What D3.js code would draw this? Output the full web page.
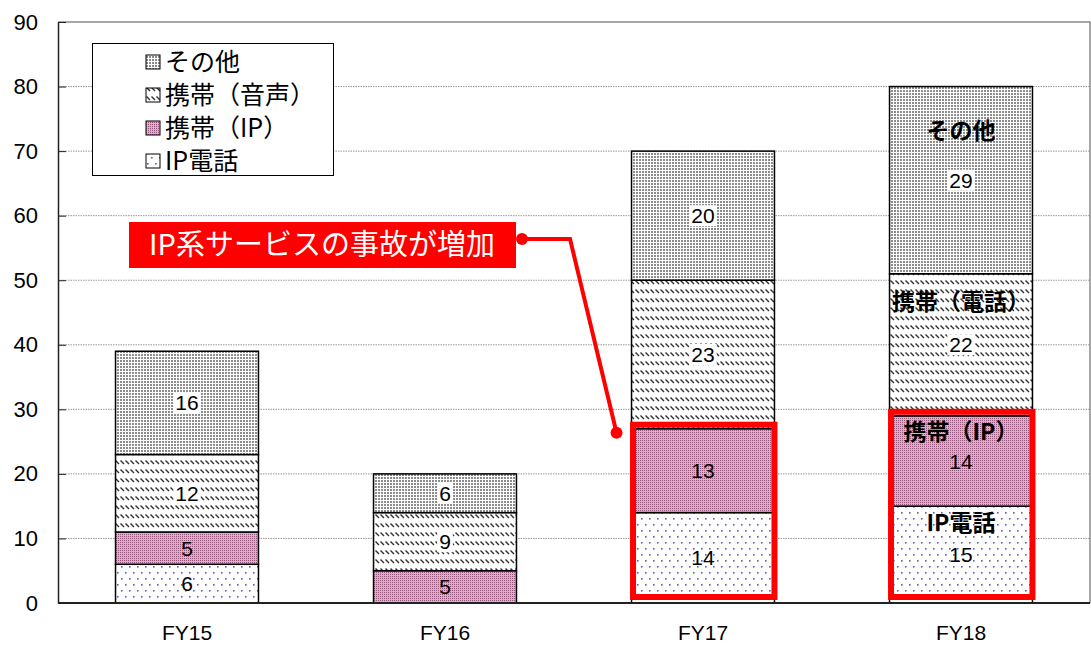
<!DOCTYPE html>
<html>
<head>
<meta charset="utf-8">
<script src="https://cdn.jsdelivr.net/npm/d3@7"></script>
<style>
  body { margin: 0; background: #fff; }
  svg { display: block; font-family: "Liberation Sans", "Noto Sans CJK JP", sans-serif; }
  .jp { font-family: "Noto Sans CJK JP", sans-serif; }
</style>
</head>
<body>
<script>
// データ
var categories = ["FY15", "FY16", "FY17", "FY18"];
var ipPhone     = [6, 0, 14, 15];   // IP電話
var mobileIp    = [5, 5, 13, 14];   // 携帯(IP)
var mobileVoice = [12, 9, 23, 22];  // 携帯(音声)
var others      = [16, 6, 20, 29];  // その他
var yTicks = [0, 10, 20, 30, 40, 50, 60, 70, 80, 90];

var keys = ["ipPhone", "mobileIp", "mobileVoice", "others"];
var legendNames = {others: "その他", mobileVoice: "携帯（音声）", mobileIp: "携帯（IP）", ipPhone: "IP電話"};
var legendOrder = ["others", "mobileVoice", "mobileIp", "ipPhone"];

// FY18 の中の太字ラベル(値の単位で位置)
var fy18Notes = [
  {text: "その他", value: 73.2},
  {text: "携帯（電話）", value: 46.6},
  {text: "携帯（IP）", value: 26.6},
  {text: "IP電話", value: 12.4}
];
var highlighted = ["FY17", "FY18"];

var dataset = categories.map(function(c, i) {
  return {cat: c, ipPhone: ipPhone[i], mobileIp: mobileIp[i], mobileVoice: mobileVoice[i], others: others[i]};
});

var W = 1091, H = 650;
var plotLeft = 58, plotRight = 1090, plotTop = 22, plotBottom = 603;

var svg = d3.select("body").append("svg")
    .attr("width", W)
    .attr("height", H);

// patronen
var defs = svg.append("defs");

var pGrey = defs.append("pattern").attr("id", "p-others")
    .attr("patternUnits", "userSpaceOnUse").attr("width", 3).attr("height", 3);
pGrey.append("rect").attr("width", 3).attr("height", 3).attr("fill", "#fff");
pGrey.append("rect").attr("width", 2).attr("height", 2).attr("fill", "#8c8c8c");

var pHatch = defs.append("pattern").attr("id", "p-mobileVoice")
    .attr("patternUnits", "userSpaceOnUse").attr("width", 5).attr("height", 9);
pHatch.append("rect").attr("width", 5).attr("height", 9).attr("fill", "#fff");
pHatch.append("path").attr("d", "M0.5,1.5 L4,5").attr("stroke", "#333").attr("stroke-width", 1.4);

var pPink = defs.append("pattern").attr("id", "p-mobileIp")
    .attr("patternUnits", "userSpaceOnUse").attr("width", 2).attr("height", 2);
pPink.append("rect").attr("width", 2).attr("height", 2).attr("fill", "#dcaecb");
pPink.append("rect").attr("width", 1).attr("height", 1).attr("fill", "#93567a");

var pDots = defs.append("pattern").attr("id", "p-ipPhone")
    .attr("patternUnits", "userSpaceOnUse").attr("width", 8).attr("height", 12);
pDots.append("rect").attr("width", 8).attr("height", 12).attr("fill", "#fff");
pDots.append("rect").attr("x", 1).attr("y", 2).attr("width", 1.6).attr("height", 1.6).attr("fill", "#5c5cc8");
pDots.append("rect").attr("x", 5).attr("y", 8).attr("width", 1.6).attr("height", 1.6).attr("fill", "#5c5cc8");

// schalen
var x = d3.scaleBand()
    .domain(categories)
    .range([plotLeft, plotRight])
    .paddingInner(0.446)
    .paddingOuter(0.223);

var y = d3.scaleLinear()
    .domain([0, 90])
    .range([plotBottom, plotTop]);

// rand en gridlijnen
svg.append("path")
    .attr("d", "M" + plotLeft + "," + plotTop + "H" + plotRight + "V" + plotBottom)
    .attr("fill", "none").attr("stroke", "#8a8a8a").attr("stroke-width", 1.5);

svg.append("g").selectAll("line")
    .data(yTicks.filter(function(d) { return d > 0 && d < 90; }))
    .enter().append("line")
      .attr("x1", plotLeft).attr("x2", plotRight)
      .attr("y1", function(d) { return y(d); })
      .attr("y2", function(d) { return y(d); })
      .attr("stroke", "#999")
      .attr("stroke-dasharray", "1.5,1")
      .attr("stroke-width", 1);

// y-as
var yAxis = svg.append("g")
    .attr("transform", "translate(" + plotLeft + ",0)")
    .call(d3.axisLeft(y).tickValues(yTicks).tickSizeInner(-8).tickSizeOuter(0).tickPadding(20));
yAxis.select(".domain").attr("stroke", "#222").attr("stroke-width", 1.5);
yAxis.selectAll(".tick line").attr("stroke", "#222");
yAxis.selectAll(".tick text")
    .attr("font-size", 22)
    .attr("font-family", "Liberation Sans, Arial, sans-serif")
    .attr("fill", "#000");

// legenda links boven
var legend = svg.append("g");
legend.append("rect")
    .attr("x", 92.5).attr("y", 43.5)
    .attr("width", 241).attr("height", 132)
    .attr("fill", "#fff").attr("stroke", "#000").attr("stroke-width", 1);

var legendRow = legend.selectAll("g.row")
    .data(legendOrder)
    .enter().append("g")
      .attr("class", "row")
      .attr("transform", function(d, i) { return "translate(146," + (62 + i * 33) + ")"; });

legendRow.append("rect")
    .attr("x", 0).attr("y", -7)
    .attr("width", 14).attr("height", 14)
    .attr("fill", function(d) { return "url(#p-" + d + ")"; })
    .attr("stroke", "#000").attr("stroke-width", 1);

legendRow.append("text")
    .attr("class", "jp")
    .attr("x", 19)
    .attr("dy", "0.36em")
    .attr("font-size", 25)
    .text(function(d) { return legendNames[d]; });

// gestapelde balken
var series = d3.stack().keys(keys)(dataset);

var layer = svg.append("g").selectAll("g")
    .data(series)
    .enter().append("g")
      .attr("fill", function(d) { return "url(#p-" + d.key + ")"; });

layer.selectAll("rect")
    .data(function(d) { return d.filter(function(s) { return s[1] - s[0] > 0; }); })
    .enter().append("rect")
      .attr("x", function(d) { return x(d.data.cat); })
      .attr("y", function(d) { return y(d[1]); })
      .attr("width", x.bandwidth())
      .attr("height", function(d) { return y(d[0]) - y(d[1]); })
      .attr("stroke", "#000")
      .attr("stroke-width", 1.5);

// x-as
svg.append("line")
    .attr("x1", plotLeft).attr("x2", plotRight)
    .attr("y1", plotBottom).attr("y2", plotBottom)
    .attr("stroke", "#222").attr("stroke-width", 2);

svg.append("g")
    .attr("transform", "translate(0," + plotBottom + ")")
    .call(d3.axisBottom(x).tickSize(0).tickPadding(22))
    .call(function(g) { g.select(".domain").remove(); })
    .selectAll("text")
      .attr("font-size", 21)
      .attr("font-family", "Liberation Sans, Arial, sans-serif")
      .attr("fill", "#000");

// waardelabels
var labelG = svg.append("g");
series.forEach(function(s) {
  s.forEach(function(d) {
    var v = d[1] - d[0];
    if (v <= 0) return;
    var cx = x(d.data.cat) + x.bandwidth() / 2;
    var cy = y((d[0] + d[1]) / 2);
    var t = labelG.append("text")
        .attr("x", cx).attr("y", cy)
        .attr("dy", "0.36em")
        .attr("text-anchor", "middle")
        .attr("font-size", 21)
        .attr("fill", "#000")
        .text(v);
    if (s.key === "others" || s.key === "mobileVoice") {
      var bb = t.node().getBBox();
      labelG.insert("rect", function() { return t.node(); })
          .attr("x", bb.x - 2).attr("y", bb.y + 1)
          .attr("width", bb.width + 4).attr("height", bb.height - 2)
          .attr("fill", "#fff");
    }
  });
});

// FY18 namen
svg.append("g").selectAll("text")
    .data(fy18Notes)
    .enter().append("text")
      .attr("class", "jp")
      .attr("x", x("FY18") + x.bandwidth() / 2)
      .attr("y", function(d) { return y(d.value); })
      .attr("dy", "0.36em")
      .attr("text-anchor", "middle")
      .attr("font-size", 23)
      .attr("font-weight", "bold")
      .attr("fill", "#000")
      .text(function(d) { return d.text; });

// rode kaders om IP-deel
svg.append("g").selectAll("rect")
    .data(dataset.filter(function(d) { return highlighted.indexOf(d.cat) >= 0; }))
    .enter().append("rect")
      .attr("x", function(d) { return x(d.cat) + 1.5; })
      .attr("y", function(d) { return y(d.ipPhone + d.mobileIp) - 4; })
      .attr("width", x.bandwidth() - 1.5)
      .attr("height", function(d) { return y(0) - 6 - (y(d.ipPhone + d.mobileIp) - 4); })
      .attr("fill", "none")
      .attr("stroke", "#ff0000")
      .attr("stroke-width", 6);

// toelichting
var fy17 = dataset[2];
var endX = x("FY17") - 15, endY = y(fy17.ipPhone + fy17.mobileIp) + 4;
var startX = 522, startY = y(56.4), bendX = 570;

var callout = svg.append("g");
callout.append("path")
    .attr("d", "M" + startX + "," + startY + "H" + bendX + "L" + endX + "," + endY)
    .attr("fill", "none").attr("stroke", "#ff0000").attr("stroke-width", 4);
callout.append("circle").attr("cx", startX).attr("cy", startY).attr("r", 6).attr("fill", "#ff0000");
callout.append("circle").attr("cx", endX).attr("cy", endY).attr("r", 6).attr("fill", "#ff0000");
callout.append("rect")
    .attr("x", 129).attr("y", 222)
    .attr("width", 387).attr("height", 46)
    .attr("fill", "#ff0000");
callout.append("text")
    .attr("class", "jp")
    .attr("x", 322).attr("y", 245)
    .attr("dy", "0.36em")
    .attr("text-anchor", "middle")
    .attr("font-size", 29)
    .attr("fill", "#fff")
    .text("IP系サービスの事故が増加");
</script>
</body>
</html>
